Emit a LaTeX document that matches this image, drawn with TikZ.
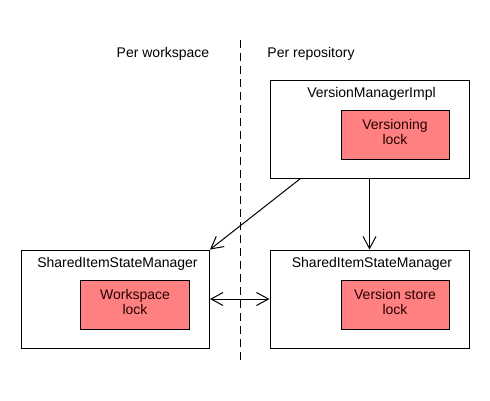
\documentclass[tikz,border=0pt]{standalone}
\usepackage{fontspec}
\setmainfont{Liberation Sans}
\usetikzlibrary{arrows.meta,calc}
\begin{document}
\begin{tikzpicture}[x=1pt,y=-1pt,
  every node/.style={font=\fontsize{14}{15}\selectfont, inner sep=0pt},
  outerbox/.style={draw=black, line width=1pt, fill=white},
  lockbox/.style={draw=black, line width=1pt, fill=lockred},
  locktext/.style={align=center, text=black!85!red},
  title/.style={anchor=base},
  conn/.style={line width=1pt, -{Straight Barb[length=12pt,width=13pt,line width=1pt]}},
  biconn/.style={line width=1pt, {Straight Barb[length=12pt,width=13pt,line width=1pt]}-{Straight Barb[length=12pt,width=13pt,line width=1pt]}},
  divider/.style={line width=1pt, dash pattern=on 8pt off 5pt}
]
\definecolor{lockred}{HTML}{FF8080}
\useasboundingbox[fill=white] (0,0) rectangle (490,400);

% divider
\coordinate (dtop) at (240.5,40);
\coordinate (dbot) at (240.5,362);
\draw[divider] (dtop) -- (dbot);

\node[anchor=base] (pw) at (163,57) {Per workspace};
\node[anchor=base] (pr) at (311,57) {Per repository};

% VersionManagerImpl
\node[outerbox, minimum width=199pt, minimum height=98pt] (vmi) at (369.5,129) {};
\node[title] (vmit) at (371.5,97) {VersionManagerImpl};
\node[lockbox, minimum width=108pt, minimum height=49pt] (vlock) at (395,134.5) {};
\node[locktext] (vlockt) at ($(vlock.center)+(0,-2.5)$) {Versioning\\lock};

% left SharedItemStateManager
\node[outerbox, minimum width=188pt, minimum height=98pt] (lsm) at (115.5,299) {};
\node[title] (lsmt) at (117.5,267) {SharedItemStateManager};
\node[lockbox, minimum width=109pt, minimum height=49pt] (wlock) at (134.5,304.5) {};
\node[locktext] (wlockt) at ($(wlock.center)+(0.5,-2.5)$) {Workspace\\lock};

% right SharedItemStateManager
\node[outerbox, minimum width=199pt, minimum height=98pt] (rsm) at (369.5,299) {};
\node[title] (rsmt) at (372,267) {SharedItemStateManager};
\node[lockbox, minimum width=108pt, minimum height=49pt] (slock) at (395,304.5) {};
\node[locktext] (slockt) at ($(slock.center)+(0,-2.5)$) {Version store\\lock};

% connectors
\draw[conn] ($(vmi.south west)+(31,0)$) -- (lsm.north east);
\draw[conn] (vmi.south) -- (rsm.north);
\draw[biconn] (lsm.east) -- (rsm.west);
\end{tikzpicture}
\end{document}
